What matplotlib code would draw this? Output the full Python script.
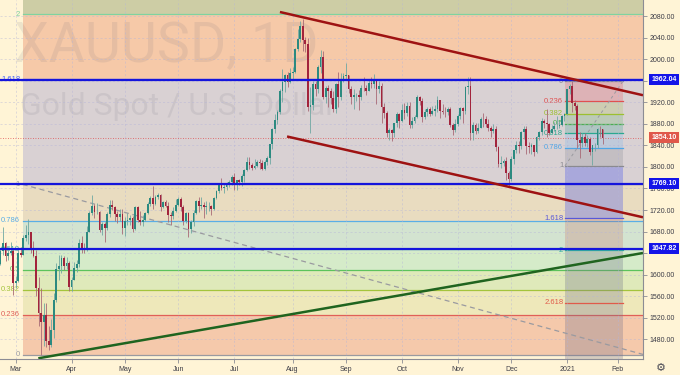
import numpy as np
import pandas as pd
import matplotlib
matplotlib.use('Agg')
import matplotlib.pyplot as plt
import matplotlib.transforms as mtransforms

# ---------------- data ----------------
holidays = ['2020-04-10', '2020-12-25', '2021-01-01']
dates = pd.bdate_range('2020-02-21', '2021-01-22', freq='C', holidays=holidays)
axis_dates = pd.bdate_range('2020-02-21', '2021-02-12', freq='C', holidays=holidays)
month_labels = ['Mar', 'Apr', 'May', 'Jun', 'Jul', 'Aug', 'Sep', 'Oct', 'Nov', 'Dec', '2021', 'Feb']

opens = [
    1620, 1643, 1658, 1635, 1641, 1643,
    1585, 1589, 1640, 1637, 1668, 1674, 1680, 1649, 1635, 1576, 1529, 1513, 1525, 1477, 1470, 1498, 1553, 1610, 1617, 1630, 1617, 1621,
    1577, 1591, 1613, 1620, 1659, 1647, 1645, 1680, 1714, 1727, 1716, 1717, 1683, 1694, 1686, 1713, 1730, 1726, 1713, 1707, 1713,
    1686, 1700, 1702, 1705, 1685, 1725, 1702, 1698, 1702, 1715, 1731, 1743, 1732, 1745, 1748, 1725, 1735, 1728, 1711, 1709, 1718,
    1730, 1740, 1726, 1699, 1714, 1684, 1697, 1715, 1737, 1728, 1730, 1726, 1727, 1727, 1722, 1743, 1755, 1768, 1761, 1763, 1771, 1772,
    1781, 1769, 1775, 1772, 1783, 1795, 1810, 1803, 1798, 1802, 1809, 1807, 1796, 1810, 1817, 1842, 1871, 1887, 1902, 1941, 1958, 1970, 1957,
    1975, 1976, 2019, 2037, 2062, 2035, 2028, 1911, 1915, 1954, 1944, 1985, 2003, 1929, 1947, 1940, 1928, 1907, 1953, 1929, 1964,
    1968, 1970, 1944, 1930, 1933, 1933, 1930, 1947, 1946, 1941, 1956, 1954, 1960, 1944, 1950, 1912, 1900, 1863, 1868, 1862, 1881, 1898,
    1886, 1906, 1900, 1913, 1877, 1886, 1893, 1930, 1922, 1892, 1902, 1908, 1899, 1904, 1907, 1924, 1904, 1902, 1901, 1908, 1878, 1868,
    1879, 1895, 1909, 1903, 1949, 1951, 1862, 1877, 1866, 1873, 1889, 1888, 1880, 1872, 1866, 1871, 1837, 1805, 1807, 1811, 1788,
    1777, 1815, 1831, 1841, 1838, 1864, 1870, 1839, 1836, 1840, 1827, 1855, 1864, 1886, 1881, 1879, 1863, 1870, 1876, 1876, 1878, 1894,
    1898, 1944, 1950, 1918, 1913, 1849, 1844, 1855, 1845, 1851, 1828, 1840, 1840, 1871, 1870,
]
highs = [
    1649, 1689, 1660, 1650, 1660, 1648,
    1597, 1649, 1652, 1673, 1692, 1703, 1680, 1662, 1645, 1596, 1575, 1547, 1548, 1504, 1517, 1566, 1621, 1637, 1637, 1635, 1633, 1625,
    1596, 1624, 1627, 1667, 1672, 1659, 1690, 1718, 1747, 1731, 1733, 1718, 1698, 1697, 1716, 1738, 1739, 1728, 1719, 1722, 1722,
    1707, 1715, 1711, 1709, 1727, 1728, 1718, 1710, 1717, 1735, 1746, 1765, 1747, 1752, 1750, 1737, 1738, 1735, 1716, 1726, 1740,
    1745, 1745, 1729, 1717, 1717, 1702, 1720, 1739, 1744, 1744, 1735, 1736, 1734, 1730, 1745, 1757, 1769, 1779, 1768, 1772, 1775, 1785,
    1789, 1776, 1777, 1786, 1796, 1818, 1818, 1808, 1815, 1813, 1815, 1812, 1813, 1820, 1843, 1872, 1898, 1905, 1945, 1981, 1973, 1976, 1984,
    1985, 2021, 2055, 2070, 2075, 2041, 2040, 1949, 1960, 1960, 1989, 2016, 2015, 1950, 1952, 1947, 1940, 1956, 1976, 1974, 1974,
    1992, 1971, 1950, 1945, 1937, 1943, 1952, 1966, 1952, 1963, 1967, 1973, 1963, 1959, 1955, 1918, 1904, 1873, 1871, 1882, 1901, 1900,
    1917, 1918, 1920, 1921, 1893, 1897, 1933, 1932, 1927, 1907, 1912, 1912, 1913, 1915, 1931, 1925, 1916, 1912, 1911, 1911, 1881, 1889,
    1898, 1911, 1911, 1951, 1966, 1966, 1884, 1881, 1881, 1892, 1900, 1894, 1888, 1875, 1880, 1876, 1839, 1820, 1815, 1818, 1793,
    1820, 1832, 1848, 1848, 1866, 1875, 1875, 1847, 1844, 1841, 1858, 1866, 1890, 1889, 1907, 1882, 1878, 1884, 1895, 1886, 1897, 1900,
    1945, 1953, 1959, 1925, 1917, 1864, 1863, 1862, 1859, 1856, 1841, 1844, 1873, 1875, 1871,
]
lows = [
    1618, 1636, 1625, 1628, 1637, 1563,
    1576, 1586, 1632, 1636, 1662, 1656, 1641, 1632, 1560, 1504, 1451, 1467, 1466, 1461, 1465, 1482, 1550, 1590, 1604, 1609, 1610, 1570,
    1570, 1590, 1605, 1614, 1641, 1640, 1643, 1680, 1710, 1706, 1713, 1680, 1673, 1660, 1683, 1707, 1720, 1700, 1696, 1700, 1675,
    1672, 1692, 1693, 1680, 1683, 1697, 1692, 1691, 1700, 1712, 1727, 1722, 1729, 1740, 1718, 1723, 1726, 1698, 1693, 1703, 1716,
    1727, 1719, 1693, 1695, 1670, 1678, 1690, 1712, 1716, 1721, 1705, 1713, 1718, 1711, 1720, 1740, 1752, 1758, 1751, 1757, 1762, 1766,
    1757, 1757, 1766, 1764, 1772, 1793, 1797, 1794, 1796, 1799, 1797, 1795, 1794, 1803, 1806, 1834, 1862, 1880, 1899, 1920, 1939, 1949, 1956,
    1964, 1974, 2015, 2031, 2015, 2014, 1903, 1863, 1905, 1932, 1938, 1975, 1926, 1918, 1911, 1916, 1902, 1900, 1911, 1925, 1958,
    1964, 1937, 1916, 1907, 1922, 1906, 1924, 1940, 1933, 1940, 1947, 1946, 1917, 1938, 1882, 1891, 1855, 1849, 1848, 1855, 1874, 1873,
    1883, 1889, 1895, 1873, 1873, 1882, 1890, 1914, 1884, 1889, 1894, 1895, 1896, 1894, 1901, 1891, 1899, 1893, 1897, 1874, 1860, 1864,
    1875, 1889, 1882, 1898, 1935, 1850, 1849, 1861, 1862, 1872, 1874, 1874, 1866, 1855, 1863, 1830, 1800, 1798, 1802, 1775, 1764,
    1774, 1806, 1826, 1826, 1834, 1852, 1824, 1826, 1823, 1820, 1825, 1850, 1859, 1872, 1855, 1859, 1862, 1867, 1870, 1872, 1876, 1885,
    1897, 1935, 1902, 1906, 1835, 1817, 1836, 1839, 1837, 1822, 1803, 1830, 1835, 1855, 1842,
]
closes = [
    1643, 1658, 1635, 1641, 1643, 1585,
    1589, 1640, 1637, 1668, 1674, 1680, 1649, 1635, 1576, 1529, 1513, 1525, 1477, 1470, 1498, 1553, 1610, 1617, 1630, 1617, 1621, 1577,
    1591, 1613, 1620, 1659, 1647, 1645, 1680, 1714, 1727, 1716, 1717, 1683, 1694, 1686, 1713, 1730, 1726, 1713, 1707, 1713, 1686,
    1700, 1702, 1705, 1685, 1725, 1702, 1698, 1702, 1715, 1731, 1743, 1732, 1745, 1748, 1725, 1735, 1728, 1711, 1709, 1718, 1730,
    1740, 1726, 1699, 1714, 1684, 1697, 1715, 1737, 1728, 1730, 1726, 1727, 1727, 1722, 1743, 1755, 1768, 1761, 1763, 1771, 1772, 1781,
    1769, 1775, 1772, 1783, 1795, 1810, 1803, 1798, 1802, 1809, 1807, 1796, 1810, 1817, 1842, 1871, 1887, 1902, 1941, 1958, 1970, 1957, 1975,
    1976, 2019, 2037, 2062, 2035, 2028, 1911, 1915, 1954, 1944, 1985, 2003, 1929, 1947, 1940, 1928, 1907, 1953, 1929, 1964, 1968,
    1970, 1944, 1930, 1933, 1933, 1930, 1947, 1946, 1941, 1956, 1954, 1960, 1944, 1950, 1912, 1900, 1863, 1868, 1862, 1881, 1898, 1886,
    1906, 1900, 1913, 1877, 1886, 1893, 1930, 1922, 1892, 1902, 1908, 1899, 1904, 1907, 1924, 1904, 1902, 1901, 1908, 1878, 1868, 1879,
    1895, 1909, 1903, 1949, 1951, 1862, 1877, 1866, 1873, 1889, 1888, 1880, 1872, 1866, 1871, 1837, 1805, 1807, 1811, 1788, 1777,
    1815, 1831, 1841, 1838, 1864, 1870, 1839, 1836, 1840, 1827, 1855, 1864, 1886, 1881, 1879, 1863, 1870, 1876, 1876, 1878, 1894, 1898,
    1944, 1950, 1918, 1913, 1849, 1844, 1855, 1845, 1851, 1828, 1840, 1840, 1871, 1870, 1854.1,
]

last_price = 1854.10
key_levels = [1962.04, 1769.10, 1647.82]

# big Fibonacci retracement (price of level 0 and level 1, start bar)
big_fib_p0, big_fib_p1, big_fib_start = 1451.5, 1767.5, 8.75
big_fib_levels = [0, 0.236, 0.382, 0.5, 0.618, 0.786, 1, 1.618, 2, 2.618]
big_fib_labels = ['0', '0.236', '0.382', '0.5', '0.618', '0.786', '1', '1.618', '2']
big_fib_diag = [(8.75, 1767.5), (253.3, 1451.5)]

# small Fibonacci retracement
small_fib_p0, small_fib_p1 = 1959.0, 1802.0
small_fib_x = (222.2, 245.0)
small_fib_levels = [0, 0.236, 0.382, 0.5, 0.618, 0.786, 1, 1.618, 2, 2.618, 3.618]
small_fib_labels = ['0', '0.236', '0.382', '0.5', '0.618', '0.786', '1', '1.618', '2', '2.618']

# trend lines (bar index, price)
upper_channel = [(110.0, 2087.4), (252.9, 1933.0)]
lower_channel = [(112.8, 1856.4), (252.9, 1706.5)]
support_line = [(14.9, 1444.8), (252.9, 1640.2)]

price_ticks = list(range(1480, 2081, 40))
hidden_ticks = [1960, 1640]   # covered by the level boxes in the reference

# ---------------- style ----------------
BG = '#fff4d6'
UP, DN = '#2c8a80', '#a2243c'
WICK_UP, WICK_DN = '#6fa8a2', '#a86a76'
big_zone_colors = ['#f5c9ab', '#eee8ba', '#dfe9ba', '#d5ebc9', '#d3e3d0', '#e9dcc0', '#d9d1d3', '#f6c9a8', '#cdcda5']
big_line_colors = ['#9a9aa0', '#e06058', '#a4c43c', '#5cc35c', '#3ab0a0', '#5aaee6', '#9a9aa0', '#3d5afe', '#7fd3a0']
small_zone_colors = ['#f23645', '#a0c030', '#4caf50', '#089981', '#64b5f6', '#787b86', '#3a4af0', '#c04848', '#707488', '#76708c']
small_zone_alpha = [0.2, 0.2, 0.2, 0.2, 0.22, 0.22, 0.3, 0.2, 0.3, 0.3]
small_line_colors = ['#8a8a90', '#e05050', '#9cc030', '#4caf50', '#2aa890', '#4ea6e6', '#8a8a90', '#5858d8', '#30b0a0', '#e05a4a']

plt.rcParams['font.family'] = ['Liberation Sans', 'DejaVu Sans']

fig = plt.figure(figsize=(6.8, 3.75), dpi=100, facecolor=BG)
ax = fig.add_axes([0, 16 / 375, 643 / 680, 359 / 375])
ax.set_facecolor(BG)
XMIN, XMAX = -0.18, 252.9
YMIN, YMAX = 1443.5, 2109.7
ax.set_xlim(XMIN, XMAX)
ax.set_ylim(YMIN, YMAX)

# big fib zones
def bf(lv):
    return big_fib_p0 + lv * (big_fib_p1 - big_fib_p0)

for k in range(len(big_fib_levels) - 1):
    ax.fill_between([big_fib_start, XMAX + 5], bf(big_fib_levels[k]), bf(big_fib_levels[k + 1]),
                    color=big_zone_colors[k], lw=0, zorder=1)
for k, lab in enumerate(big_fib_labels):
    y = bf(big_fib_levels[k])
    ax.plot([big_fib_start, XMAX + 5], [y, y], color=big_line_colors[k], lw=0.9, zorder=1.2)
    ax.text(big_fib_start - 1.0, y, lab, color=big_line_colors[k], fontsize=5.5,
            ha='right', va='center', zorder=1.2)

# watermark
ax.text(14 / 680, 1 - 62 / 375, 'XAUUSD, 1D', transform=fig.transFigure, fontsize=40,
        family=['Roboto', 'DejaVu Sans'], color=(0.42, 0.42, 0.48), alpha=0.12, va='baseline', zorder=1.5)
ax.text(20 / 680, 1 - 115 / 375, 'Gold Spot / U.S. Dollar', transform=fig.transFigure, fontsize=23,
        family=['Roboto', 'DejaVu Sans'], color=(0.42, 0.42, 0.48), alpha=0.12, va='baseline', zorder=1.5)

# small fib zones
def sf(lv):
    return small_fib_p0 - lv * (small_fib_p0 - small_fib_p1)

sx0, sx1 = small_fib_x
for k in range(len(small_fib_levels) - 1):
    ax.fill_between([sx0, sx1], sf(small_fib_levels[k]), sf(small_fib_levels[k + 1]),
                    color=small_zone_colors[k], alpha=small_zone_alpha[k], lw=0, zorder=1.8)
for k, lab in enumerate(small_fib_labels):
    y = sf(small_fib_levels[k])
    ax.plot([sx0, sx1], [y, y], color=small_line_colors[k], lw=0.9, zorder=2)
    ax.text(sx0 - 0.7, y, lab, color=small_line_colors[k], fontsize=5.5, ha='right', va='center', zorder=2)
ax.plot([sx0, sx1], [small_fib_p1, small_fib_p0], color='#9a9aa0', lw=0.7, ls=(0, (3, 3)), zorder=2)

# grid
ax.set_axisbelow(False)
ax.grid(True, color='#b4b4d8', lw=0.5, ls=(0, (3, 3)), alpha=0.6)

# candles
n = min(len(opens), len(highs), len(lows), len(closes), len(dates))
o = np.array(opens[:n], float); h = np.array(highs[:n], float)
l = np.array(lows[:n], float); c = np.array(closes[:n], float)
x = np.arange(n)
up = c >= o
ax.vlines(x, l, h, colors=np.where(up, WICK_UP, WICK_DN), lw=0.6, zorder=4)
ax.bar(x, np.maximum(np.abs(c - o), 0.8), bottom=np.minimum(o, c), width=0.7,
       color=np.where(up, UP, DN), lw=0, zorder=5)

# drawings
ax.plot(*zip(*big_fib_diag), color='#9a9aa0', lw=0.9, ls=(0, (4, 3)), zorder=3)
ax.axhline(last_price, color='#e05050', lw=0.6, ls=(0, (1, 2)), zorder=3)
for lv in key_levels:
    ax.axhline(lv, color='#1414dc', lw=1.6, zorder=6)
ax.plot(*zip(*upper_channel), color='#9e1212', lw=1.8, zorder=6, solid_capstyle='butt')
ax.plot(*zip(*lower_channel), color='#9e1212', lw=1.8, zorder=6, solid_capstyle='butt')
ax.plot(*zip(*support_line), color='#1f641f', lw=1.8, zorder=6, solid_capstyle='butt')

# axes
for s in ['top', 'left']:
    ax.spines[s].set_visible(False)
for s in ['right', 'bottom']:
    ax.spines[s].set_color('#8c8c94')
    ax.spines[s].set_linewidth(0.8)
    ax.spines[s].set_zorder(7)
ax.yaxis.tick_right()
ax.set_yticks(price_ticks)
ax.set_yticklabels(['' if v in hidden_ticks else f'{v:.2f}' for v in price_ticks])
month_ticks = []
prev = None
for k, d in enumerate(axis_dates):
    if prev is not None and d.month != prev:
        month_ticks.append(k)
    prev = d.month
month_ticks = month_ticks[:len(month_labels)]
ax.set_xticks(month_ticks)
ax.set_xticklabels(month_labels[:len(month_ticks)])
ax.tick_params(axis='both', labelsize=5, colors='#8c8c94', labelcolor='#3c3c46', length=3, width=0.6, pad=2)

# price boxes on the right
tr = mtransforms.blended_transform_factory(ax.transAxes, ax.transData)
for lv in key_levels:
    ax.text(1.013, lv, f'{lv:.2f}', transform=tr, fontsize=5, color='white', ha='left', va='center',
            fontweight='bold', clip_on=False, zorder=10,
            bbox=dict(boxstyle='square,pad=0.3', fc='#1414e8', ec='none'))
ax.text(1.013, last_price, f'{last_price:.2f}', transform=tr, fontsize=5, color='white', ha='left', va='center',
        fontweight='bold', clip_on=False, zorder=10,
        bbox=dict(boxstyle='square,pad=0.3', fc='#e0584a', ec='none'))

fig.text(661 / 680, 7 / 375, '\u2699', fontsize=8, color='#4a4a55', ha='center', va='center',
         family=['DejaVu Sans'])

fig.savefig('out.png', dpi=100, facecolor=BG)
